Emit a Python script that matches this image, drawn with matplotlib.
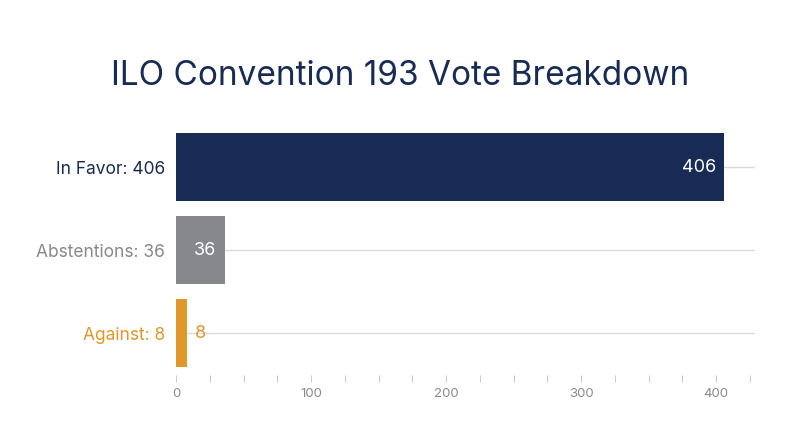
import matplotlib.pyplot as plt
from matplotlib.ticker import MultipleLocator

categories = ['In Favor', 'Abstentions', 'Against']
votes = [406, 36, 8]
colors = ['#172B54', '#87888C', '#E0982A']

plt.rcParams['font.family'] = ['Inter', 'DejaVu Sans']

fig = plt.figure(figsize=(8, 4.47), dpi=100)
ax = fig.add_axes([0.22, 0.162, 0.724, 0.557])

y = list(range(len(categories)))
for yi in y:
    ax.axhline(yi, color='#DADADA', linewidth=1, zorder=0)
ax.barh(y, votes, height=0.82, color=colors, zorder=2)

ax.set_ylim(2.5, -0.5)
ax.set_xlim(0, 429)

# value labels: inside the bar when it fits, otherwise just after it
for yi, v, c in zip(y, votes, colors):
    if v > 20:
        ax.text(v - 6, yi, str(v), color='white', ha='right', va='center',
                fontsize=13, zorder=3)
    else:
        ax.text(v + 6, yi, str(v), color=c, ha='left', va='center',
                fontsize=13, zorder=3)

ax.set_yticks(y)
ax.set_yticklabels([f'{c}: {v}' for c, v in zip(categories, votes)], fontsize=12.5)
for lbl, c in zip(ax.get_yticklabels(), colors):
    lbl.set_color(c)
ax.tick_params(axis='y', length=0, pad=8)

ax.xaxis.set_major_locator(MultipleLocator(100))
ax.xaxis.set_minor_locator(MultipleLocator(25))
ax.tick_params(axis='x', which='both', length=5, color='#CCCCCC', width=0.8,
               labelsize=9.5, labelcolor='#8A8A8A', pad=5)

for s in ax.spines.values():
    s.set_visible(False)

fig.suptitle('ILO Convention 193 Vote Breakdown', x=0.5, y=0.865,
             fontsize=24, color='#172B54')

plt.savefig('out.png', dpi=100)
